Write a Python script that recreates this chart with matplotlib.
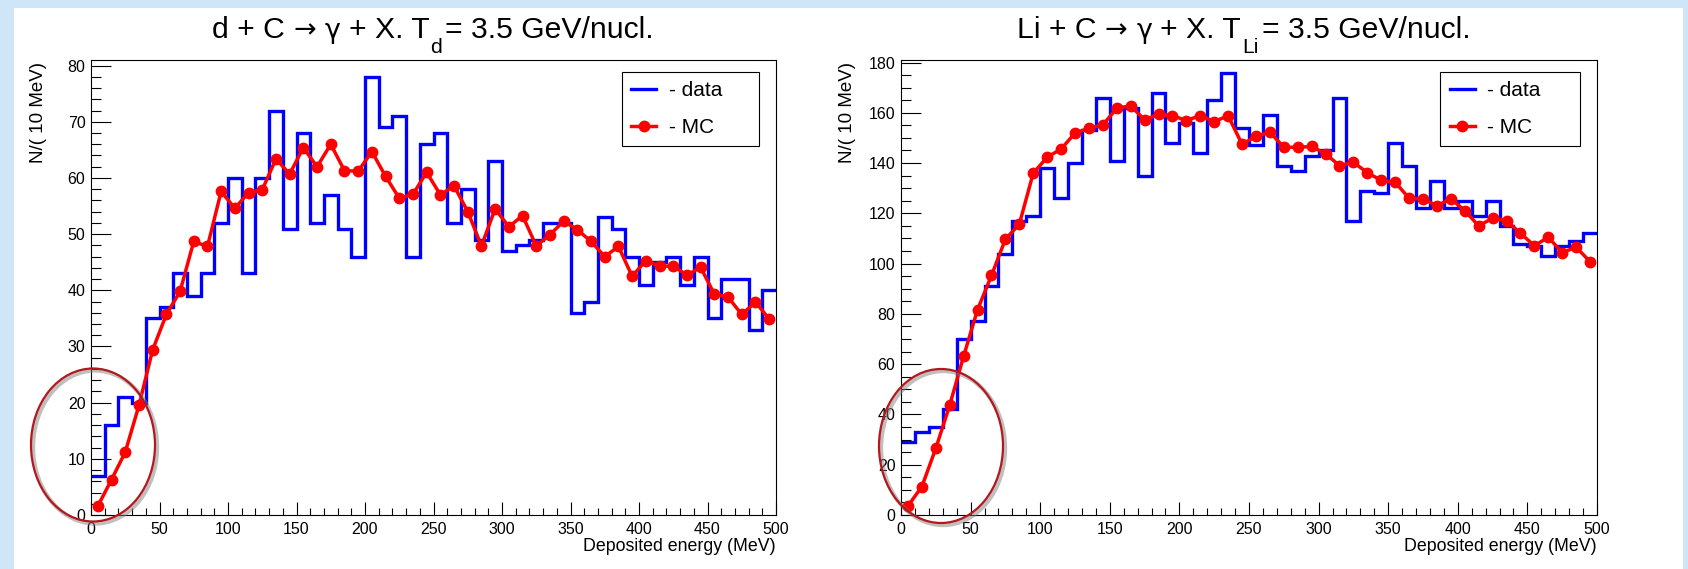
import numpy as np
import matplotlib
matplotlib.use("Agg")
import matplotlib.pyplot as plt
import matplotlib.patheffects as pe
from matplotlib.patches import Ellipse, Rectangle
from matplotlib.ticker import MultipleLocator

plt.rcParams["font.family"] = ["Liberation Sans", "DejaVu Sans"]

# ─────────────────────────── DATA ───────────────────────────
# 50 bins of 10 MeV in deposited energy
EDGES   = np.arange(0, 501, 10)
CENTERS = 0.5 * (EDGES[:-1] + EDGES[1:])

# d + C, counts per 10 MeV
D_DATA = [7, 16, 21, 20, 35, 37, 43, 39, 43, 52,
          60, 43, 60, 72, 51, 68, 52, 57, 51, 46,
          78, 69, 71, 46, 66, 68, 52, 58, 49, 63,
          47, 48, 49, 52, 52, 36, 38, 53, 51, 46,
          41, 45, 46, 41, 46, 35, 42, 42, 33, 40]
D_MC = [1.6, 6.3, 11.2, 19.5, 29.4, 35.7, 39.8, 48.7, 47.8, 57.6,
        54.6, 57.4, 57.9, 63.4, 60.7, 65.4, 62.0, 66.0, 61.3, 61.2,
        64.7, 60.3, 56.4, 57.1, 61.0, 57.0, 58.6, 54.0, 47.9, 54.5,
        51.3, 53.3, 47.9, 49.9, 52.3, 50.8, 48.7, 46.0, 47.8, 42.5,
        45.3, 44.3, 44.3, 42.7, 44.1, 39.3, 38.8, 35.7, 37.9, 34.9]

# Li + C, counts per 10 MeV
LI_DATA = [29, 33, 35, 42, 70, 77, 91, 104, 117, 119,
           138, 126, 140, 153, 166, 141, 162, 135, 168, 148,
           156, 144, 165, 176, 154, 147, 159, 139, 137, 143,
           145, 166, 117, 129, 128, 148, 139, 122, 133, 122,
           125, 119, 125, 115, 108, 107, 103, 107, 109, 112]
LI_MC = [3.6, 11.3, 26.5, 43.7, 63.2, 81.7, 95.3, 109.7, 115.7, 136.0,
         142.3, 145.6, 151.9, 153.9, 155.2, 161.8, 162.8, 157.2, 159.4, 158.9,
         156.9, 158.9, 156.5, 158.8, 147.5, 150.6, 152.3, 146.3, 146.3, 146.6,
         143.7, 139.0, 140.3, 136.2, 133.1, 132.4, 126.0, 125.8, 123.0, 125.8,
         121.1, 115.0, 118.1, 117.1, 112.1, 107.1, 110.5, 104.4, 106.5, 100.8]

# ────────────────────────── LAYOUT ──────────────────────────
W, H = 1688, 569          # canvas in pixels (dpi 100)
PT = 72.0 / 100.0         # points per pixel
LIB, DJV = "Liberation Sans", "DejaVu Sans"

PANELS = [
    dict(data=D_DATA, mc=D_MC, box=(91, 60, 776, 515), ymax=81,
         ymajor=10, yminor=2,
         title=("d + C", "+ X. T", "d", "= 3.5 GeV/nucl."),
         title_x=212,
         ellipse=(93, 445, 124, 153)),
    dict(data=LI_DATA, mc=LI_MC, box=(901, 60, 1597, 515), ymax=181,
         ymajor=20, yminor=5,
         title=("Li + C", "+ X. T", "Li", "= 3.5 GeV/nucl."),
         title_x=1017,
         ellipse=(941, 446, 124, 154)),
]

BLUE = "#0000ff"
RED  = "#ff0000"
RING = "#b5171c"


def px_rect(l, t, r, b):
    return [l / W, 1 - b / H, (r - l) / W, (b - t) / H]


fig = plt.figure(figsize=(W / 100, H / 100), dpi=100)
fig.patch.set_facecolor("#cfe5f8")
fig.add_artist(Rectangle((14 / W, 0), (1683 - 14) / W, (H - 8) / H,
                         transform=fig.transFigure, facecolor="white",
                         edgecolor="none", zorder=0))
renderer = fig.canvas.get_renderer()


def draw_title(x_px, parts, size=21.7):
    """Reaction title laid out piece by piece, with a low subscript."""
    lead, tail, sub, rest = parts
    space = 0.28 * size / PT
    pieces = [(lead, LIB, size, 38, space),
              ("\u2192", DJV, size * 0.9, 37, space),
              ("\u03b3", DJV, size * 0.9, 38, space),
              (tail, LIB, size, 38, 1),
              (sub, LIB, size * 0.7, 53, 3),
              (rest, LIB, size, 38, 0)]
    x = x_px
    for txt, fam, fs, base, gap in pieces:
        t = fig.text(x / W, 1 - base / H, txt, fontsize=fs, family=fam,
                     va="baseline", ha="left")
        x = t.get_window_extent(renderer).x1 + gap


for p in PANELS:
    l, t, r, b = p["box"]
    ax = fig.add_axes(px_rect(l, t, r, b))
    ax.set_facecolor("white")

    ax.stairs(p["data"], EDGES, baseline=None, color=BLUE, lw=2.4, zorder=2)
    ax.plot(CENTERS, p["mc"], "-o", color=RED, lw=2.5, ms=7.5, zorder=3)

    ax.set_xlim(0, 500)
    ax.set_ylim(0, p["ymax"])

    ax.xaxis.set_major_locator(MultipleLocator(50))
    ax.xaxis.set_minor_locator(MultipleLocator(10))
    ax.yaxis.set_major_locator(MultipleLocator(p["ymajor"]))
    ax.yaxis.set_minor_locator(MultipleLocator(p["yminor"]))

    ax.tick_params(which="both", direction="in", top=False, right=False,
                   width=0.8, color="black", labelsize=11.5)
    ax.tick_params(axis="y", which="major", length=20 * PT, pad=4)
    ax.tick_params(axis="y", which="minor", length=10 * PT)
    ax.tick_params(axis="x", which="major", length=13 * PT, pad=5)
    ax.tick_params(axis="x", which="minor", length=7 * PT)
    for s in ax.spines.values():
        s.set_linewidth(0.8)
        s.set_color("black")

    ax.text(-0.064, 0.996, "N/( 10 MeV)", rotation=90, ha="right", va="top",
            fontsize=13.5, transform=ax.transAxes)
    ax.text(1.0, -0.070, "Deposited energy (MeV)", ha="right", va="center",
            fontsize=12.8, transform=ax.transAxes)

    ax.legend(["- data", "- MC"], loc="upper left",
              bbox_to_anchor=(0.775, 0.811, 0.20, 0.163), mode="expand",
              fontsize=15, frameon=True, fancybox=False, edgecolor="black",
              framealpha=1, borderaxespad=0, borderpad=0.45,
              labelspacing=0.85, handlelength=1.2, handletextpad=0.6)
    ax.get_legend().get_frame().set_linewidth(0.8)

    # highlighted low-energy region
    cx, cy, ew, eh = p["ellipse"]
    ring = Ellipse(((cx - l) / (r - l), (b - cy) / (b - t)),
                   ew / (r - l), eh / (b - t), transform=ax.transAxes,
                   fill=False, edgecolor=RING, lw=1.6, clip_on=False, zorder=5)
    ring.set_path_effects([pe.SimpleLineShadow(offset=(1.5, -1.5), shadow_color="gray",
                                               alpha=0.5, linewidth=3),
                           pe.Normal()])
    ax.add_patch(ring)

    draw_title(p["title_x"], p["title"])

fig.savefig("out.png", dpi=100)
